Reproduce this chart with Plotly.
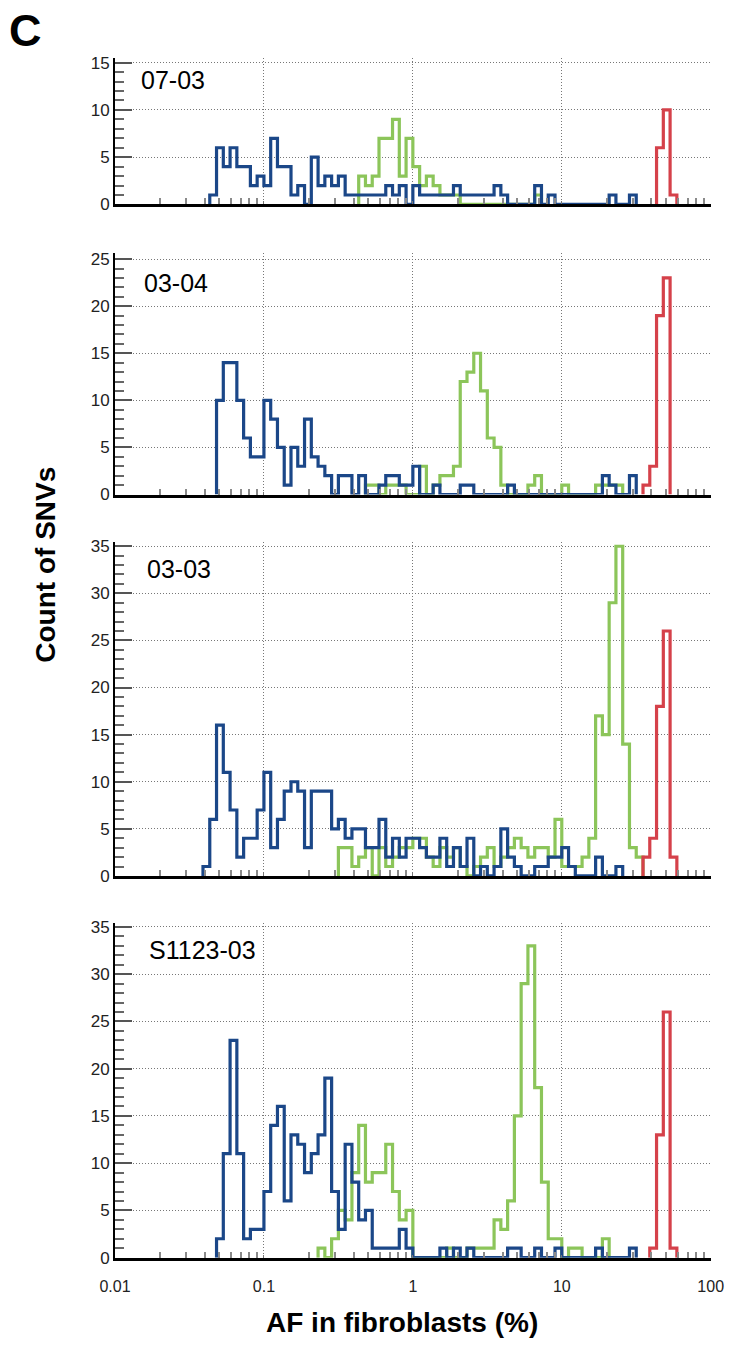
import plotly.graph_objects as go

# ---------------- data ----------------
BINS_PER_DECADE = 22          # log-spaced bins, 0.01 % .. 100 %
LOG_MIN = -2

panel_names = ["07-03", "03-04", "03-03", "S1123-03"]
y_max = [15.5, 25.7, 35.4, 35.4]
y_major = [5, 5, 5, 5]

# first bin index (from 0.01 %) and counts per bin
p1_blue_first = 14
p1_blue = [1, 6, 4, 6, 4, 4, 2, 3, 2, 7, 4, 4, 1, 2, 0, 5, 2, 3, 2, 3, 1, 1, 1, 1, 1, 1,
           2, 1, 2, 0, 2, 1, 1, 1, 1, 1, 2, 1, 1, 1, 1, 1, 2, 1, 0, 0, 0, 0, 2, 0, 1,
           0, 0, 0, 0, 0, 0, 0, 0, 1, 0, 0, 1]
p1_green_first = 36
p1_green = [3, 2, 3, 7, 7, 9, 3, 7, 4, 2, 3, 2, 1, 1, 1, 0, 0, 0, 0, 0, 0, 0, 0, 0, 0, 0, 1]
p1_red_first = 80
p1_red = [6, 10, 1]

p2_blue_first = 15
p2_blue = [10, 14, 14, 10, 6, 4, 4, 10, 8, 5, 1, 5, 3, 8, 4, 3, 2, 0, 2, 2, 0, 2, 0, 0, 1,
           2, 2, 1, 1, 3, 0, 0, 1, 0, 0, 0, 1, 1, 0, 0, 0, 0, 0, 1, 0, 0, 0, 0, 0, 0,
           0, 0, 0, 0, 0, 0, 0, 2, 1, 0, 0, 2]
p2_green_first = 37
p2_green = [1, 1, 0, 1, 1, 1, 0, 0, 3, 0, 1, 2, 2, 3, 12, 13, 15, 11, 6, 5, 1, 0, 0, 0, 1,
            2, 0, 0, 0, 1, 0, 0, 0, 0, 1, 1, 1, 1]
p2_red_first = 78
p2_red = [1, 3, 19, 23]

p3_blue_first = 13
p3_blue = [1, 6, 16, 11, 7, 2, 4, 4, 7, 11, 3, 6, 9, 10, 9, 3, 9, 9, 9, 5, 6, 4, 5, 5, 3,
           3, 6, 2, 4, 2, 4, 4, 3, 2, 2, 4, 1, 3, 1, 4, 0, 1, 0, 1, 5, 2, 1, 0, 0, 1,
           1, 2, 2, 3, 1, 0, 0, 0, 2, 0, 0, 1]
p3_green_first = 33
p3_green = [3, 3, 1, 2, 3, 0, 3, 1, 2, 3, 3, 4, 4, 2, 1, 3, 2, 3, 1, 0, 1, 2, 3, 1, 2,
            3, 4, 3, 2, 3, 3, 2, 6, 1, 1, 1, 2, 4, 17, 15, 29, 35, 14, 3, 2]
p3_red_first = 78
p3_red = [2, 4, 18, 26, 2]

p4_blue_first = 15
p4_blue = [2, 11, 23, 11, 2, 3, 3, 7, 14, 16, 6, 13, 12, 9, 11, 13, 19, 7, 3, 12, 8, 4,
           5, 1, 1, 1, 1, 3, 1, 0, 0, 0, 0, 1, 0, 1, 0, 1, 0, 0, 0, 0, 0, 1, 1, 0, 0,
           1, 0, 0, 1, 0, 0, 0, 0, 0, 1, 0, 0, 0, 0, 1]
p4_green_first = 30
p4_green = [1, 0, 2, 5, 4, 9, 14, 8, 9, 9, 12, 7, 4, 5, 0, 0, 0, 0, 0, 1, 0, 0, 1, 1, 1,
            1, 4, 3, 6, 15, 29, 33, 18, 8, 2, 2, 0, 1, 1, 0, 0, 0, 2]
p4_red_first = 79
p4_red = [1, 13, 26, 1]

x_tickvals = [0.01, 0.1, 1, 10, 100]
x_ticktext = ["0.01", "0.1", "1", "10", "100"]

panels = [
    [(p1_green_first, p1_green), (p1_blue_first, p1_blue), (p1_red_first, p1_red)],
    [(p2_green_first, p2_green), (p2_blue_first, p2_blue), (p2_red_first, p2_red)],
    [(p3_green_first, p3_green), (p3_blue_first, p3_blue), (p3_red_first, p3_red)],
    [(p4_green_first, p4_green), (p4_blue_first, p4_blue), (p4_red_first, p4_red)],
]

# ---------------- styling / layout ----------------
W, H = 729, 1351
ML, MR, MT, MB = 115, 18, 0, 0
colors = ["#8cc55a", "#1b4788", "#d5414a"]
FONT = "Liberation Sans, Arial, Helvetica, sans-serif"
GRID_DASH = "1px,2px"

# pixel tops/bottoms of each panel
panel_px = [(53.5, 201.7), (250.3, 495.0), (543.5, 880.7), (928.5, 1266.7)]
label_px = [(139, 76), (141.5, 281), (145, 570), (146.5, 956)]


def px_x(px):
    return (px - ML) / (W - ML - MR)


def px_y(py):
    return 1 - (py - MT) / (H - MT - MB)


edges = [10 ** (LOG_MIN + k / BINS_PER_DECADE) for k in range(4 * BINS_PER_DECADE + 1)]


def outline(first, counts):
    n = len(counts)
    xs = [edges[first]] + [edges[first + i] for i in range(n)] + [edges[first + n]]
    ys = [0] + list(counts) + [0]
    return xs, ys


fig = go.Figure()
minor_x = [m * 10 ** e for e in range(-2, 2) for m in range(2, 10)]

for p, series in enumerate(panels):
    ax = "" if p == 0 else str(p + 1)
    for (first, counts), col in zip(series, colors):
        xs, ys = outline(first, counts)
        fig.add_trace(go.Scatter(x=xs, y=ys, mode="lines", line=dict(color=col, width=3.2, shape="hv"),
                                 xaxis="x" + ax, yaxis="y" + ax, showlegend=False, hoverinfo="skip"))
    top, bot = panel_px[p]
    last = p == len(panels) - 1
    fig.layout["xaxis" + ax] = dict(
        type="log", range=[LOG_MIN, 2.002], domain=[0, 1], anchor="y" + ax,
        showline=True, linecolor="black", linewidth=3, zeroline=False,
        showgrid=True, gridcolor="#777777", griddash=GRID_DASH, gridwidth=1,
        tickmode="array", tickvals=x_tickvals, ticktext=x_ticktext,
        ticks="inside", ticklen=3, tickwidth=1, tickcolor="#777777",
        showticklabels=last, ticklabelstandoff=12,
        tickfont=dict(family=FONT, size=16, color="#222"),
        minor=dict(tickmode="array", tickvals=minor_x, ticks="inside", ticklen=6, tickwidth=1.5,
                   tickcolor="#8a8a8a", showgrid=False),
    )
    fig.layout["yaxis" + ax] = dict(
        range=[0, y_max[p]], domain=[px_y(bot), px_y(top)], anchor="x" + ax,
        showline=True, linecolor="black", linewidth=2, zeroline=False,
        showgrid=True, gridcolor="#777777", griddash=GRID_DASH, gridwidth=1,
        tickmode="linear", dtick=y_major[p], tick0=0, ticks="inside", ticklen=17, tickwidth=2,
        tickcolor="#555555",
        tickfont=dict(family=FONT, size=17, color="#222"),
        minor=dict(tickmode="linear", dtick=1, tick0=0, ticks="inside", ticklen=9, tickwidth=1.5,
                   tickcolor="#666666", showgrid=False),
    )
    lx, ly = label_px[p]
    fig.add_annotation(text=panel_names[p], xref="paper", yref="paper", x=px_x(lx), y=px_y(ly),
                       xanchor="left", yanchor="middle", showarrow=False,
                       font=dict(family=FONT, size=25, color="black"))

fig.add_annotation(text="<b>C</b>", xref="paper", yref="paper", x=px_x(7), y=px_y(26),
                   xanchor="left", yanchor="middle", showarrow=False,
                   font=dict(family=FONT, size=45, color="black"))
fig.add_annotation(text="<b>Count of SNVs</b>", xref="paper", yref="paper", x=px_x(46), y=px_y(566),
                   xanchor="center", yanchor="middle", textangle=-90, showarrow=False,
                   font=dict(family=FONT, size=28, color="black"))
fig.add_annotation(text="<b>AF in fibroblasts (%)</b>", xref="paper", yref="paper", x=px_x(402),
                   y=px_y(1332), xanchor="center", yanchor="middle", showarrow=False,
                   font=dict(family=FONT, size=28, color="black"))

fig.update_layout(width=W, height=H, margin=dict(l=ML, r=MR, t=MT, b=MB, pad=0),
                  paper_bgcolor="white", plot_bgcolor="white")

fig.write_html("out.html", config={"displayModeBar": False},
               post_script="document.body.style.margin='0';")
